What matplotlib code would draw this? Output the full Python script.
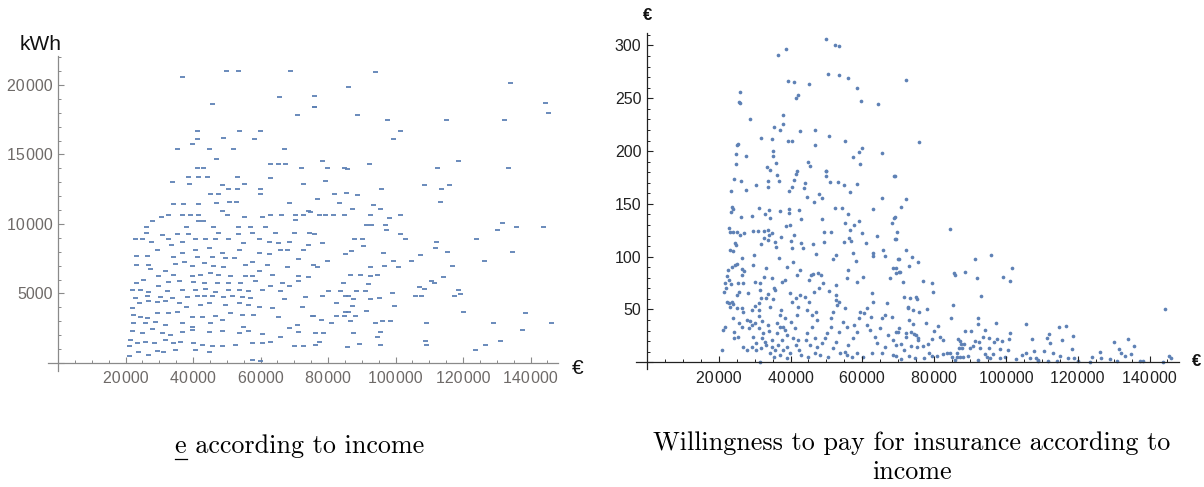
import matplotlib
matplotlib.use("Agg")
import matplotlib.pyplot as plt
from matplotlib.ticker import MultipleLocator, FuncFormatter
from matplotlib.lines import Line2D

# left panel: electricity consumption (kWh) vs income (k€)
elec_income_k = [
    36.7, 49.8, 53.3, 68.6, 65.6, 45.6, 70.8, 75.9, 41.2, 53.7, 59.9, 41.2, 48.8, 58.2, 35.3, 39.6,
    44.6, 51.7, 66.9, 46.7, 62.7, 65.3, 67.3, 71.9, 41.2, 42.8, 38.6, 41.4, 44.2, 52.9, 62.9, 33.7,
    38.8, 48.7, 50.5, 52.9, 55.0, 59.7, 59.7, 45.0, 47.3, 72.7, 34.2, 36.9, 41.6, 46.7, 50.7, 52.8,
    48.5, 50.1, 68.5, 74.0, 30.5, 32.7, 36.7, 39.2, 41.6, 55.2, 60.4, 62.9, 66.0, 70.1, 72.7, 27.8,
    41.4, 42.8, 45.8, 53.3, 57.0, 61.2, 26.0, 38.0, 70.1, 26.0, 30.7, 35.1, 38.6, 47.5, 53.3, 57.4,
    64.3, 69.9, 74.5, 22.8, 24.8, 27.6, 32.7, 36.7, 40.6, 43.6, 46.5, 50.5, 54.8, 59.4, 62.4, 65.3,
    68.3, 74.2, 29.3, 33.5, 36.7, 40.6, 44.6, 48.5, 53.5, 59.4, 62.4, 65.8, 67.9, 72.7, 23.0, 26.3,
    34.2, 41.1, 45.6, 49.5, 52.0, 57.4, 71.2, 23.0, 26.8, 31.7, 34.7, 37.2, 39.6, 43.1, 46.0, 49.0,
    55.4, 59.4, 61.9, 67.8, 25.3, 27.3, 29.7, 34.2, 39.6, 42.1, 45.1, 47.5, 51.0, 55.4, 57.4, 63.3,
    71.2, 74.2, 23.0, 29.7, 32.7, 35.7, 40.1, 43.1, 47.0, 50.5, 54.0, 58.4, 62.9, 66.3, 68.3, 71.0,
    21.8, 24.3, 26.8, 32.2, 36.7, 40.6, 43.6, 46.5, 50.5, 53.5, 56.4, 60.4, 65.8, 22.8, 26.3, 30.2,
    33.7, 38.1, 41.1, 43.1, 45.6, 49.0, 51.5, 54.5, 56.9, 66.8, 73.2, 21.8, 24.0, 26.8, 29.3, 31.7,
    35.7, 37.8, 42.1, 44.6, 49.5, 53.5, 56.4, 59.4, 63.3, 72.2, 22.3, 24.3, 26.3, 29.3, 32.7, 35.2,
    39.6, 42.6, 46.5, 51.0, 54.5, 57.9, 65.3, 75.2, 22.3, 25.8, 28.8, 31.7, 36.7, 39.6, 45.1, 48.5,
    54.9, 70.7, 68.3, 21.8, 24.8, 27.8, 30.7, 33.2, 36.7, 39.6, 44.6, 48.5, 53.5, 56.4, 60.4, 65.8,
    71.2, 76.2, 21.3, 23.3, 25.8, 28.3, 31.7, 34.2, 36.2, 40.1, 42.6, 45.6, 48.5, 52.5, 57.4, 60.4,
    62.9, 69.8, 72.7, 20.9, 23.8, 26.8, 29.3, 31.2, 34.7, 40.6, 44.6, 20.9, 57.4, 59.9,
    93.9, 86.0, 75.9, 75.9, 133.8, 144.3, 145.1, 88.5, 97.6, 114.9, 132.0, 101.3, 99.2, 78.1, 118.6,
    92.0, 79.8, 84.6, 85.5, 112.4, 133.2, 79.1, 95.8, 108.3, 113.4, 115.7, 76.8, 81.8, 85.2, 88.5,
    83.1, 93.4, 95.4, 87.0, 113.2, 74.7, 77.4, 79.1, 81.4, 84.7, 92.5, 98.0, 101.3, 91.3, 92.8, 96.9,
    97.2, 131.5, 130.0, 135.7, 143.6, 75.7, 101.2, 87.7, 90.0, 102.8, 123.9, 112.0, 90.5, 78.1, 86.7,
    85.0, 96.2, 111.7, 115.2, 107.3, 134.6, 79.6, 99.2, 104.6, 126.2, 75.5, 76.8, 92.5, 96.6, 100.8,
    116.7, 86.5, 89.5, 92.5, 94.6, 110.4, 111.4, 114.2, 84.5, 91.7, 106.8, 108.3, 79.9, 83.4, 88.3,
    90.8, 98.9, 118.4, 119.1, 78.1, 85.0, 86.0, 87.3, 92.5, 95.1, 105.8, 107.5, 117.2, 82.4, 87.0,
    99.6, 85.0, 86.0, 91.3, 119.9, 138.4, 75.5, 82.3, 84.7, 88.0, 77.8, 80.8, 86.5, 93.9, 95.9, 98.4,
    109.0, 129.0, 146.0, 137.4, 78.6, 87.5, 95.4, 94.6, 77.4, 76.2, 89.3, 85.5, 95.4, 108.6, 109.1,
    126.5, 130.8, 123.6,
]
elec_kwh = [
    20550, 20980, 20980, 20980, 19110, 18610, 17865, 18440, 16690, 16690, 16690, 16115, 16185, 16115,
    15370, 15755, 15370, 15370, 15370, 14700, 14290, 14290, 14290, 14000, 14000, 14000, 13357, 13357,
    13357, 13357, 13285, 12997, 12853, 12805, 12494, 12494, 12853, 12494, 12134, 12134, 12134, 12853,
    11438, 11438, 11438, 11535, 11606, 11606, 10959, 10647, 11535, 10959, 10479, 10647, 10647, 10647,
    10647, 10479, 10479, 10647, 10647, 10647, 10647, 10240, 10240, 10240, 9808, 9808, 9808, 9808,
    9808, 9808, 10287, 9328, 9208, 9280, 9280, 9328, 9256, 9376, 9328, 9328, 9328, 8897, 8897, 8729,
    8897, 8729, 8897, 8897, 8897, 8897, 8609, 8897, 8729, 8657, 8729, 8489, 8129, 8489, 7937, 8129,
    8249, 7937, 8129, 7889, 7841, 8129, 8129, 8129, 7698, 7698, 7650, 7650, 7650, 7530, 7530, 7290,
    7482, 7050, 7050, 6642, 7098, 7290, 6978, 7170, 6978, 6930, 7050, 6642, 7050, 6930, 5970, 6738,
    6258, 6330, 6258, 6330, 6498, 6330, 6258, 6258, 6258, 6330, 6258, 6210, 5779, 5539, 5851, 5899,
    5851, 5779, 5779, 5779, 5779, 5923, 5539, 5779, 5539, 5923, 5252, 5252, 5132, 5204, 5252, 5252,
    5300, 5132, 5252, 5252, 5204, 5252, 5204, 4652, 4820, 4724, 4652, 4772, 4820, 4820, 4820, 4772,
    4820, 4724, 4652, 4580, 4772, 3932, 4292, 4484, 4412, 4484, 4292, 4052, 4172, 4292, 4172, 4292,
    4172, 4052, 3932, 4052, 3453, 3333, 3213, 3573, 3573, 3693, 3333, 3285, 3381, 3573, 3453, 3453,
    3333, 3381, 2853, 2853, 2973, 2733, 2853, 2613, 2853, 3093, 2613, 2733, 2493, 2326, 2134, 2422,
    2182, 2014, 2254, 2374, 2254, 2326, 2182, 2326, 2086, 1894, 2254, 2182, 1654, 1414, 1534, 1414,
    1654, 1414, 1534, 1414, 1294, 1222, 1222, 1294, 1462, 1462, 1534, 1222, 1222, 1222, 815, 575,
    887, 815, 935, 935, 815, 503, 215, 143,
    20959, 19832, 19232, 18393, 20119, 18729, 17961, 17841, 17482, 17482, 17482, 16666, 16091, 14556,
    14556, 14292, 14004, 14004, 13932, 14004, 14004, 13069, 12518, 12806, 12518, 12806, 11822, 12158,
    12254, 12086, 11535, 11343, 11103, 11103, 11607, 10887, 10671, 10671, 10671, 10671, 10671, 10431,
    10623, 9904, 9904, 9904, 9568, 10072, 9568, 9808, 9808, 9280, 9280, 8897, 8897, 8897, 8897, 8705,
    8417, 8609, 8081, 7817, 7937, 8249, 7961, 7769, 7961, 7362, 7362, 7314, 7362, 7050, 6930, 6930,
    6978, 6930, 6978, 6330, 6330, 6258, 6330, 5923, 5779, 6162, 5779, 5683, 5491, 5299, 5204, 5204,
    5156, 5204, 5060, 5252, 4964, 4820, 4820, 4820, 4580, 4580, 4676, 4820, 4820, 4820, 4292, 4100,
    4100, 3693, 3693, 3765, 3693, 3573, 3381, 3381, 3381, 3381, 3093, 2901, 3045, 2901, 3045, 3045,
    2901, 2853, 2853, 2374, 2182, 2182, 2230, 1894, 1511, 1271, 1367, 1127, 1271, 1559, 1271, 1271,
    1559, 935,
]

# right panel: willingness to pay (€) vs income (k€)
wtp_income_k = [
    48.0, 50.0, 52.4, 53.4, 38.7, 36.6, 50.5, 53.4, 56.1, 39.3, 41.1, 45.1, 58.4, 26.0, 25.7, 25.9,
    42.0, 41.4, 59.6, 64.4, 28.7, 38.0, 37.9, 37.0, 35.3, 42.5, 46.9, 50.7, 31.7, 34.8, 39.2, 40.3,
    46.9, 55.1, 25.0, 25.3, 24.7, 35.0, 35.1, 27.7, 24.8, 36.0, 33.4, 34.4, 45.0, 45.4, 49.8, 41.9,
    41.5, 57.3, 59.1, 60.0, 59.3, 65.5, 68.8, 24.2, 26.3, 27.6, 23.3, 30.5, 33.7, 33.7, 36.9, 36.3,
    40.3, 39.7, 40.9, 43.7, 44.1, 44.7, 46.6, 47.8, 48.9, 50.0, 49.9, 51.1, 53.1, 54.9, 56.5, 58.4,
    65.6, 23.7, 23.9, 23.3, 26.3, 29.3, 31.1, 32.8, 34.1, 34.3, 37.2, 39.6, 39.5, 42.3, 38.6, 39.8,
    42.8, 48.8, 49.3, 51.2, 52.5, 54.4, 55.9, 55.1, 56.6, 57.8, 59.0, 59.8, 62.9, 64.0, 68.2, 68.7,
    69.1, 22.8, 23.1, 23.9, 25.2, 25.9, 27.1, 29.6, 30.8, 32.7, 33.6, 33.9, 34.9, 32.6, 31.8, 33.6,
    35.7, 35.9, 24.5, 24.9, 23.1, 24.0, 37.3, 40.0, 40.9, 42.9, 40.3, 43.4, 46.3, 47.1, 49.3, 51.7,
    52.8, 54.9, 56.2, 56.8, 57.3, 58.1, 60.9, 63.0, 63.0, 65.7, 66.3, 70.2, 69.7,
    26.4, 25.2, 24.4, 23.6, 22.7, 22.2, 21.8, 21.4, 22.0, 22.9, 23.4, 22.4, 22.9, 23.6, 23.1, 25.1,
    25.6, 26.6, 26.5, 27.1, 25.4, 26.8, 29.6, 29.7, 30.2, 33.1, 32.6, 31.6, 31.7, 31.1, 31.1, 29.3,
    26.5, 24.1, 21.3, 21.7, 24.2, 24.2, 20.8, 25.7, 26.4, 27.8, 28.7, 29.2, 28.3, 30.1, 31.3, 32.0,
    31.2, 32.3, 32.0, 33.8, 34.1, 34.3, 35.4, 34.8, 35.8, 35.2, 37.3, 37.0, 38.4, 36.1, 37.0, 38.4,
    36.1, 34.7, 33.3, 34.7, 35.7, 34.3, 35.4, 37.0, 36.6, 37.5, 38.0, 39.1, 39.8, 40.8, 42.2, 41.6,
    42.4, 42.9, 41.2, 40.0, 41.7, 42.2, 41.6, 42.6, 44.0, 45.1, 45.8, 46.3, 47.6, 48.4, 49.1, 48.0,
    46.5, 45.1, 44.7, 45.9, 47.1, 47.4, 45.9, 44.5, 44.3, 45.4, 46.8, 47.3, 46.8, 48.2, 48.7, 49.6,
    50.2, 51.4, 51.2, 51.9, 53.0, 52.8, 52.6, 50.8, 53.6, 55.2, 54.7, 55.6, 53.6, 52.8, 51.9, 53.8,
    55.2, 56.1, 57.5, 58.6, 57.7, 59.1, 59.3, 60.4, 61.4, 62.6, 63.0, 62.3, 61.2, 62.1, 63.5, 64.0,
    64.9, 65.4, 66.8, 66.3, 68.2, 67.2, 68.6, 69.5, 66.3, 65.4, 62.6, 60.3, 58.4, 57.0, 55.6, 50.5,
    44.9, 31.5, 38.9, 68.6, 70.0, 67.7, 68.6, 69.5, 70.3, 55.6, 56.1, 58.4, 60.3, 52.8, 38.0, 39.1,
    29.6, 30.5, 32.9, 29.2, 26.8, 27.8, 30.5, 31.7, 25.4, 41.9, 42.6, 40.8, 39.1, 36.9, 37.6, 38.4,
    39.8, 40.3, 33.8, 33.3, 31.5, 28.2, 30.1, 26.8, 24.0, 25.0,
    72.1, 75.9, 69.1, 72.3, 70.9, 69.1, 69.3, 84.4, 72.3, 73.7, 70.0, 73.0, 75.4, 69.5, 70.6, 71.2,
    91.3, 95.9, 85.5, 85.9, 88.7, 92.0, 101.6, 99.2, 101.2, 76.9, 79.3, 79.8, 93.0, 71.7, 73.3, 75.0,
    75.3, 72.8, 72.8, 74.2, 75.9, 78.1, 85.2, 84.7, 92.3, 92.3, 97.2, 73.1, 74.1, 77.6, 70.2, 69.5,
    72.3, 73.5, 74.4, 74.9, 75.4, 75.6, 72.1, 79.9, 81.2, 81.7, 82.5, 79.3, 77.0, 78.2, 75.1, 73.5,
    70.8, 71.7, 78.6, 77.3, 74.8, 73.0, 69.5, 70.8, 79.5, 80.8, 82.5, 83.5, 84.4, 85.0, 85.8, 86.4,
    86.4, 87.3, 88.1, 89.3, 86.7, 87.3, 87.4, 88.2, 87.0, 87.8, 88.7, 90.4, 90.1, 90.8, 91.5, 92.5,
    92.9, 93.6, 94.1, 95.3, 95.4, 94.6, 94.3, 95.5, 96.3, 96.7, 97.5, 98.3, 99.0, 101.1, 100.8, 100.6,
    99.7, 98.4, 92.3, 102.8, 104.6, 105.6, 105.6, 106.7, 107.3, 107.8, 108.3, 109.0, 110.6, 111.5,
    111.9, 112.4, 113.1, 114.7, 115.2, 115.6, 116.6, 117.3, 118.3, 118.7, 119.0, 120.1, 123.9, 123.4,
    126.3, 126.6, 129.0, 130.0, 131.0, 131.4, 132.1, 133.1, 133.9, 134.8, 135.7, 137.3, 138.3, 143.8,
    144.3, 145.3, 146.1, 111.6, 114.3, 108.8,
]
wtp_eur = [
    314.7, 305.8, 300.5, 299.5, 296.7, 291.0, 272.7, 272.0, 268.9, 266.4, 265.1, 263.2, 259.4, 255.6,
    246.8, 245.8, 253.1, 249.9, 247.4, 244.3, 230.4, 234.2, 225.3, 219.9, 223.1, 219.0, 220.0, 214.6,
    212.7, 211.4, 209.5, 209.5, 205.4, 209.2, 205.7, 206.7, 197.5, 200.1, 195.6, 195.0, 187.4, 189.0,
    185.2, 182.1, 189.3, 185.9, 181.1, 181.4, 178.0, 194.1, 198.8, 202.6, 187.4, 198.5, 176.7, 173.2,
    171.7, 163.1, 162.2, 167.9, 171.7, 166.3, 172.0, 177.3, 166.3, 162.2, 172.6, 164.7, 169.4, 156.8,
    151.4, 159.0, 155.2, 176.7, 181.1, 171.0, 171.0, 167.9, 161.6, 168.5, 155.2, 147.3, 144.8, 142.0,
    137.2, 138.8, 145.8, 140.4, 144.2, 136.3, 143.5, 145.1, 141.0, 144.2, 129.1, 130.0, 135.7, 135.4,
    123.0, 123.7, 145.8, 146.4, 140.7, 131.6, 125.2, 130.0, 133.8, 122.1, 145.1, 119.9, 131.6, 137.0,
    116.7, 126.8, 123.7, 123.7, 123.7, 120.5, 122.7, 124.3, 124.3, 124.3, 125.2, 120.5, 122.1, 118.0,
    112.0, 115.8, 113.6, 109.5, 112.6, 111.0, 106.3, 105.4, 118.6, 114.8, 120.5, 113.2, 107.9, 107.9,
    112.0, 102.2, 114.2, 97.8, 101.6, 114.2, 117.3, 114.8, 103.2, 95.9, 112.6, 103.8, 100.9, 106.3,
    100.6, 97.5, 123.7,
    99.0, 93.4, 92.1, 90.5, 87.4, 82.0, 74.7, 66.8, 70.0, 77.9, 73.8, 57.4, 55.8, 57.4, 52.6, 63.7,
    66.8, 82.6, 88.3, 86.4, 74.7, 74.7, 92.1, 101.6, 76.3, 89.6, 81.1, 68.4, 60.5, 56.4, 49.5, 49.5,
    51.1, 41.6, 30.5, 33.7, 29.0, 22.6, 11.6, 36.8, 33.7, 40.0, 39.1, 35.2, 32.1, 36.8, 43.8, 39.1,
    32.1, 28.0, 22.6, 35.2, 29.6, 52.6, 70.0, 79.5, 68.4, 59.6, 49.5, 44.7, 41.6, 37.5, 33.7, 30.5,
    27.4, 21.0, 16.3, 14.7, 11.6, 8.4, 5.3, 6.9, 16.3, 21.0, 11.6, 14.7, 8.4, 22.6, 21.0, 16.3,
    11.6, 6.9, 32.7, 38.4, 44.7, 52.6, 60.5, 63.7, 62.1, 77.9, 82.6, 83.3, 84.2, 82.6, 74.7, 70.0,
    66.8, 57.4, 49.5, 44.7, 47.2, 40.0, 33.7, 27.4, 21.0, 16.3, 22.6, 14.7, 8.4, 6.9, 17.9, 22.6,
    27.4, 33.7, 41.6, 47.9, 54.2, 63.7, 73.2, 67.5, 57.4, 51.1, 38.4, 33.7, 29.0, 19.5, 13.2, 8.4,
    10.0, 16.3, 22.6, 29.0, 35.2, 41.6, 47.9, 46.3, 51.1, 65.3, 57.4, 43.2, 35.2, 30.5, 24.2, 17.9,
    32.1, 41.6, 55.8, 44.7, 43.2, 25.8, 21.0, 16.3, 14.7, 8.4, 8.4, 5.3, 8.4, 5.3, 6.9, 5.3,
    5.3, 0.6, 3.7, 6.9, 29.0, 79.5, 88.9, 84.2, 85.8, 79.5, 87.4, 76.3, 81.1, 58.9, 33.7, 25.8,
    24.2, 17.9, 19.5, 14.7, 14.7, 11.6, 11.6, 13.8, 24.2, 82.6, 87.4, 95.3, 90.5, 98.4, 76.3, 77.9,
    65.3, 57.4, 64.7, 60.5, 74.7, 65.3, 53.5, 47.9, 54.8, 51.1,
    267.3, 208.3, 176.7, 154.3, 146.7, 137.2, 116.4, 125.9, 106.6, 99.7, 97.5, 91.1, 94.6, 88.9, 85.8,
    75.7, 97.5, 101.6, 84.8, 82.6, 85.8, 79.5, 88.9, 80.4, 77.3, 76.9, 74.7, 66.8, 63.0, 61.5, 60.5,
    62.1, 59.9, 52.6, 51.1, 49.5, 47.9, 50.1, 54.2, 41.6, 42.2, 36.5, 37.5, 40.0, 36.5, 37.5, 32.1,
    28.3, 27.4, 28.3, 27.0, 25.8, 22.6, 20.7, 24.2, 29.9, 34.3, 24.2, 21.0, 22.0, 15.7, 17.0, 14.1,
    15.7, 17.0, 11.6, 8.4, 4.3, 3.7, 5.9, 5.9, 2.7, 5.9, 5.9, 7.5, 8.4, 8.4, 5.3, 2.1, 8.4, 5.3,
    5.3, 5.3, 5.9, 22.0, 20.1, 17.0, 17.0, 13.2, 13.2, 29.9, 29.9, 13.2, 15.4, 20.4, 19.5, 13.2,
    24.2, 30.5, 22.6, 13.8, 5.3, 7.8, 3.7, 7.5, 19.5, 22.0, 12.2, 20.1, 27.4, 21.7, 11.6, 5.3,
    4.3, 2.1, 2.7, 6.9, 36.2, 9.1, 4.3, 22.0, 10.6, 4.3, 2.1, 10.6, 23.3, 26.7, 18.5, 9.1, 33.7,
    5.9, 20.7, 34.6, 3.7, 12.2, 24.8, 3.7, 1.2, 5.3, 0.5, 10.0, 3.7, 3.1, 19.5, 1.2, 12.2, 8.4,
    5.9, 22.0, 7.8, 15.7, 1.5, 1.5, 0.5, 50.4, 5.9, 4.3, 1.2, 1.2, 1.2,
]

x_ticks = [20000, 40000, 60000, 80000, 100000, 120000, 140000]
blue = "#5e81b5"
tick_font = ["Liberation Sans", "DejaVu Sans"]


def group_digits(v, pos):
    v = int(round(v))
    if v == 0:
        return ""
    if v >= 10000:
        return f"{v:,}".replace(",", "\u200a")
    return str(v)


def style_axes(ax, axis_color, label_color, y_major, y_minor):
    for side in ["top", "right"]:
        ax.spines[side].set_visible(False)
    for side in ["left", "bottom"]:
        ax.spines[side].set_position(("data", 0))
        ax.spines[side].set_color(axis_color)
        ax.spines[side].set_linewidth(0.9)
    ax.set_xticks(x_ticks)
    ax.xaxis.set_minor_locator(MultipleLocator(5000))
    ax.yaxis.set_major_locator(MultipleLocator(y_major))
    ax.yaxis.set_minor_locator(MultipleLocator(y_minor))
    ax.xaxis.set_major_formatter(FuncFormatter(group_digits))
    ax.yaxis.set_major_formatter(FuncFormatter(group_digits))
    ax.tick_params(which="major", direction="in", length=4, width=0.8, color=axis_color,
                   labelcolor=label_color, labelsize=11.5)
    ax.tick_params(which="minor", direction="in", length=2.3, width=0.7, color=axis_color)
    ax.tick_params(axis="x", which="major", pad=6)
    ax.tick_params(axis="y", which="major", pad=4)
    for lab in ax.get_xticklabels() + ax.get_yticklabels():
        lab.set_family(tick_font)


fig = plt.figure(figsize=(12.04, 4.87), dpi=100)

ax1 = fig.add_axes([0.0398, 0.2376, 0.4233, 0.6478])
ax1.plot([v * 1000 for v in elec_income_k], elec_kwh, linestyle="none", marker="_",
         markersize=3.6, markeredgewidth=1.3, color=blue)
ax1.set_xlim(-3000, 148000)
ax1.set_ylim(-600, 22100)
style_axes(ax1, "#8a8a8a", "#6e6a68", 5000, 1000)
fig.text(41 / 1204, 1 - 45 / 487, "kWh", ha="center", va="center", fontsize=15,
         family=tick_font, color="#111111")
fig.text(578 / 1204, 1 - 369 / 487, "€", ha="center", va="center", fontsize=15,
         family=tick_font, color="#111111")

ax2 = fig.add_axes([0.5284, 0.2431, 0.4508, 0.6895])
ax2.scatter([v * 1000 for v in wtp_income_k], wtp_eur, s=7, linewidths=0, color=blue,
            clip_on=True)
ax2.set_xlim(-3000, 148200)
ax2.set_ylim(-6, 312)
style_axes(ax2, "#222222", "#222222", 50, 10)
fig.text(648 / 1204, 1 - 15 / 487, "€", ha="center", va="center", fontsize=12,
         family=tick_font, color="#111111", fontweight="bold")
fig.text(1197 / 1204, 1 - 361 / 487, "€", ha="center", va="center", fontsize=12,
         family=tick_font, color="#111111", fontweight="bold")

# captions in Computer Modern
cap_size = 18.8
cap1 = fig.text(300 / 1204, 1 - 446 / 487, "e according to income", ha="center", va="center",
                fontsize=cap_size, family="cmr10")
fig.text(912 / 1204, 1 - 443 / 487, "Willingness to pay for insurance according to",
         ha="center", va="center", fontsize=cap_size, family="cmr10")
fig.text(912 / 1204, 1 - 472 / 487, "income", ha="center", va="center", fontsize=cap_size,
         family="cmr10")

# underline the leading "e"
fig.canvas.draw()
renderer = fig.canvas.get_renderer()
bb = cap1.get_window_extent(renderer)
e_txt = fig.text(0, 0, "e", fontsize=cap_size, family="cmr10")
e_w = e_txt.get_window_extent(renderer).width
e_txt.remove()
y_line = bb.y0 - 1
fig.add_artist(Line2D([bb.x0 / 1204, (bb.x0 + e_w) / 1204], [y_line / 487, y_line / 487],
                      color="black", linewidth=0.9))

fig.savefig("out.png", dpi=100)
